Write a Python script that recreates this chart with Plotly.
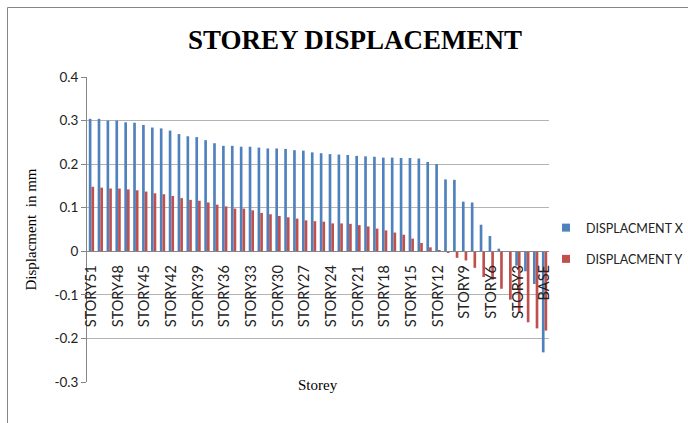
import plotly.graph_objects as go

stories = ["STORY%d" % n for n in range(51, 0, -1)] + ["BASE"]

disp_x = [0.304, 0.304, 0.300, 0.300, 0.296, 0.295, 0.290, 0.284, 0.282, 0.277,
          0.269, 0.264, 0.262, 0.255, 0.248, 0.242, 0.242, 0.240, 0.240, 0.238,
          0.236, 0.236, 0.235, 0.232, 0.231, 0.227, 0.225, 0.223, 0.222, 0.221,
          0.219, 0.218, 0.217, 0.215, 0.215, 0.214, 0.214, 0.213, 0.205, 0.200,
          0.165, 0.164, 0.114, 0.112, 0.061, 0.035, 0.006, 0.000, -0.033, -0.046,
          -0.075, -0.232]

disp_y = [0.148, 0.146, 0.144, 0.144, 0.142, 0.140, 0.137, 0.133, 0.131, 0.127,
          0.122, 0.118, 0.116, 0.112, 0.107, 0.103, 0.098, 0.098, 0.094, 0.088,
          0.085, 0.081, 0.078, 0.075, 0.071, 0.069, 0.068, 0.064, 0.064, 0.063,
          0.060, 0.057, 0.052, 0.048, 0.043, 0.038, 0.029, 0.019, 0.009, 0.001,
          -0.003, -0.015, -0.021, -0.038, -0.059, -0.065, -0.086, -0.111, -0.140, -0.163,
          -0.177, -0.182]

tick_labels = stories[::3]

BLUE = "#4F81BD"
RED = "#C0504D"
GRID = "#B3B3B3"
AX = "#868686"

W, H = 688, 423
ML, MR, MT, MB = 87, 139, 77, 41
PW = W - ML - MR
PH = H - MT - MB

fig = go.Figure()
fig.add_trace(go.Bar(x=stories, y=disp_x, name="DISPLACMENT X",
                     marker=dict(color=BLUE, line=dict(width=0)), showlegend=False))
fig.add_trace(go.Bar(x=stories, y=disp_y, name="DISPLACMENT Y",
                     marker=dict(color=RED, line=dict(width=0)), showlegend=False))
# legend entries
fig.add_trace(go.Scatter(x=[None], y=[None], mode="markers", name="DISPLACMENT X",
                         marker=dict(symbol="square", size=8, color=BLUE),
                         legendgroup="a"))
fig.add_trace(go.Scatter(x=[None], y=[None], mode="markers", name="DISPLACMENT Y",
                         marker=dict(symbol="square", size=8, color=RED),
                         legendgroup="b"))

def px_x(px):
    return (px - ML) / PW

def px_y(py):
    return (H - MB - py) / PH

fig.add_shape(type="rect", xref="paper", yref="paper",
              x0=px_x(7.5), x1=px_x(700), y0=px_y(7.5), y1=px_y(440),
              line=dict(color=AX, width=1), fillcolor="rgba(0,0,0,0)")

fig.update_layout(
    width=W, height=H,
    margin=dict(l=ML, r=MR, t=MT, b=MB, autoexpand=False),
    paper_bgcolor="white", plot_bgcolor="white",
    barmode="group", bargap=0.4, bargroupgap=0,
    title=dict(text="<b>STOREY DISPLACEMENT</b>", x=355 / W, xanchor="center",
               y=1 - 40 / H, yanchor="middle",
               font=dict(family="Liberation Serif", size=27, color="black")),
    legend=dict(x=546 / W, y=1 - 213 / H, xref="container", yref="container",
                xanchor="left", yanchor="top",
                font=dict(family="Lato", size=12.5, color="#222"),
                tracegroupgap=12, traceorder="grouped",
                bgcolor="rgba(0,0,0,0)", itemwidth=30),
    xaxis=dict(
        type="category", categoryorder="array", categoryarray=stories,
        tickmode="array", tickvals=tick_labels, ticktext=tick_labels,
        tickangle=-90, tickfont=dict(family="Lato", size=14.5, color="#222"),
        anchor="free", position=3 / 7,
        showline=True, linecolor=AX, linewidth=1,
        showgrid=False, ticks="", ticklabelstandoff=7,
        range=[-0.5, len(stories) - 0.5],
        title=None,
    ),
    yaxis=dict(
        range=[-0.3, 0.4],
        tickvals=[-0.3, -0.2, -0.1, 0, 0.1, 0.2, 0.3, 0.4],
        ticktext=["-0.3", "-0.2", "-0.1", "0", "0.1", "0.2", "0.3", "0.4"],
        showgrid=True, gridcolor=GRID, gridwidth=1,
        zeroline=False,
        showline=True, linecolor=AX, linewidth=1,
        ticks="outside", ticklen=5, tickcolor=AX,
        tickfont=dict(family="Lato", size=13.5, color="#222"),
        title=dict(text="Displacment  in mm", standoff=14,
                   font=dict(family="Liberation Serif", size=15, color="black")),
    ),
)

fig.add_annotation(text="Storey", xref="paper", yref="paper",
                   x=px_x(318), y=px_y(395), showarrow=False,
                   font=dict(family="Liberation Serif", size=15, color="black"))

fig.write_html("out.html", config={"displayModeBar": False},
               post_script="document.body.style.margin='0';")
